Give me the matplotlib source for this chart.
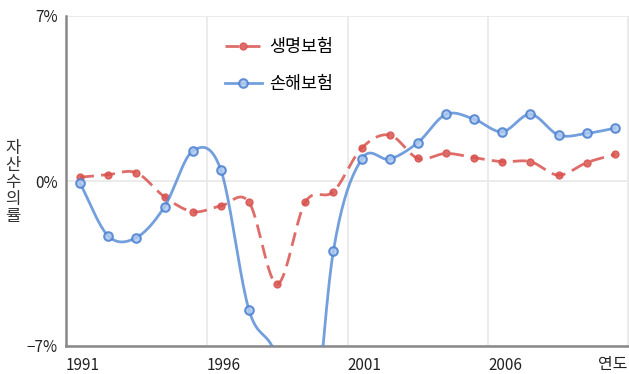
import numpy as np
import matplotlib
matplotlib.use('Agg')
import matplotlib.pyplot as plt

plt.rcParams['font.family'] = ['Noto Sans CJK KR', 'DejaVu Sans']

years = list(range(1991, 2011))
life = [0.16, 0.27, 0.35, -0.67, -1.30, -1.06, -0.90, -4.37, -0.90, -0.45,
        1.39, 1.95, 0.96, 1.17, 0.99, 0.82, 0.82, 0.25, 0.78, 1.13]
nonlife = [-0.10, -2.33, -2.40, -1.09, 1.27, 0.47, -5.47, -7.55, -13.3, -2.96,
           0.92, 0.93, 1.63, 2.83, 2.62, 2.09, 2.83, 1.95, 2.02, 2.24]
xtick_labels = ['1991', '1996', '2001', '2006']
ytick_labels = ['\u22127%', '0%', '7%']

RED = '#d9534f'
BLUE = '#5b8fd8'
STEPS = 20


def smooth(values, steps=STEPS):
    # catmull-rom spline through the points, like the original chart's curve
    v = np.asarray(values, dtype=float)
    p = np.concatenate([[2 * v[0] - v[1]], v, [2 * v[-1] - v[-2]]])
    xs, ys = [], []
    t = np.linspace(0, 1, steps, endpoint=False)
    for i in range(len(v) - 1):
        p0, p1, p2, p3 = p[i], p[i + 1], p[i + 2], p[i + 3]
        m1 = (p2 - p0) / 2
        m2 = (p3 - p1) / 2
        h00 = 2 * t**3 - 3 * t**2 + 1
        h10 = t**3 - 2 * t**2 + t
        h01 = -2 * t**3 + 3 * t**2
        h11 = t**3 - t**2
        xs.extend(i + t)
        ys.extend(h00 * p1 + h10 * m1 + h01 * p2 + h11 * m2)
    xs.append(len(v) - 1)
    ys.append(v[-1])
    return np.array(xs), np.array(ys)


fig = plt.figure(figsize=(6.29, 3.74), dpi=100)
ax = fig.add_axes([66 / 629, 28 / 374, 563 / 629, 330 / 374])

marks = list(range(0, (len(years) - 1) * STEPS + 1, STEPS))

x_l, y_l = smooth(life)
ax.plot(x_l, y_l, color=RED, lw=2, alpha=0.85, dashes=(5, 2.6),
        marker='o', markersize=5, markerfacecolor=RED, markeredgecolor=RED,
        markevery=marks, label='생명보험', zorder=3)

x_n, y_n = smooth(nonlife)
ax.plot(x_n, y_n, color=BLUE, lw=2, alpha=0.85,
        marker='o', markersize=6.2, markerfacecolor='#b0caf0',
        markeredgecolor='#4a7fd0', markeredgewidth=1.5,
        markevery=marks, label='손해보험', zorder=3)

ax.set_xlim(-0.5, len(years) - 0.5)
ax.set_ylim(-7, 7)

ax.set_xticks([-0.5, 4.5, 9.5, 14.5])
ax.set_xticklabels(xtick_labels, ha='left', fontsize=11, color='#222222')
ax.set_yticks([-7, 0, 7])
ax.set_yticklabels(ytick_labels, fontsize=11, color='#222222')
ax.tick_params(length=0, pad=6)
ax.tick_params(axis='x', pad=8)

ax.grid(True, color='#e8e8e8', lw=1.2)
ax.axvline(19.45, color='#e8e8e8', lw=1.2)
ax.set_axisbelow(True)

for side in ['top', 'right']:
    ax.spines[side].set_visible(False)
ax.spines['left'].set_color('#888888')
ax.spines['bottom'].set_color('#888888')
ax.spines['left'].set_linewidth(1.8)
ax.spines['bottom'].set_linewidth(1.8)

ax.text(0.997, -0.055, '연도', transform=ax.transAxes, ha='right', va='center',
        fontsize=11.5, color='#222222')
fig.text(13 / 629, 1 - 183 / 374, '자\n산\n수\n의\n률', ha='center', va='center',
         fontsize=12, color='#333333', linespacing=1.0)

ax.legend(loc='upper left', bbox_to_anchor=(0.255, 0.98), frameon=False,
          fontsize=12.5, handlelength=2.1, labelspacing=1.1, handletextpad=0.45)

fig.savefig('out.png', dpi=100)
